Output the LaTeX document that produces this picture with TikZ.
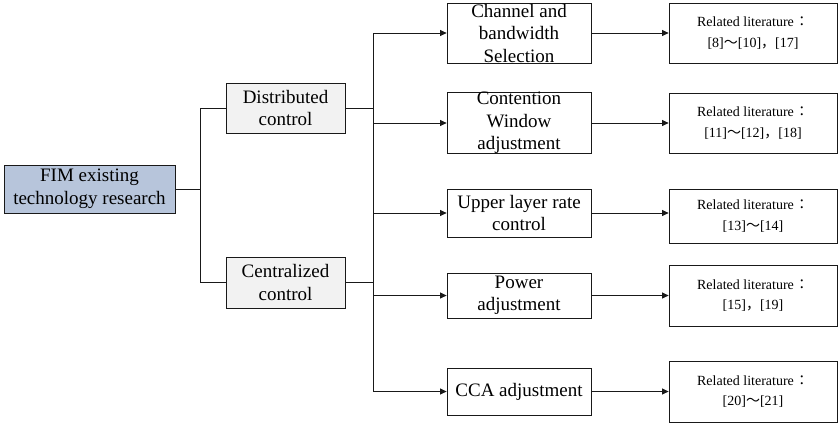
\documentclass[tikz,border=0pt]{standalone}
\usepackage{fontspec}
\setmainfont{Liberation Serif}
\newfontfamily\cjk{Noto Sans CJK SC}
\newfontfamily\cjktc{Noto Sans CJK TC}
\usetikzlibrary{arrows.meta}
\definecolor{rootfill}{HTML}{B7C5DB}
\definecolor{midfill}{HTML}{F2F2F2}
\newcommand{\relcolon}{\hspace{1pt}{\cjktc ：}}
\begin{document}
\begin{tikzpicture}[x=1pt,y=-1pt,
  box/.style={draw=black!90, line width=0.8pt, inner sep=0pt, align=center,
    font=\rmfamily\fontsize{19}{22.5}\selectfont},
  refbox/.style={box, minimum width=168pt, minimum height=60pt,
    font=\rmfamily\fontsize{14}{20.5}\selectfont},
  midbox/.style={box, minimum width=144pt},
  conn/.style={draw=black!90, line width=0.8pt},
  arr/.style={conn, -{Triangle[length=6.5pt,width=6pt]}}]
\useasboundingbox (0,0) rectangle (839,424);

\node[box, fill=rootfill, minimum width=171pt, minimum height=48pt] (fim) at (89.5,189)
  {FIM existing\\technology research};
\node[box, fill=midfill, minimum width=119pt, minimum height=50pt] (dist) at (285.5,108)
  {Distributed\\control};
\node[box, fill=midfill, minimum width=119pt, minimum height=51pt] (cent) at (285.5,282.5)
  {Centralized\\control};

\node[midbox, minimum height=60pt] (m1) at (519,33) {Channel and\\bandwidth\\Selection};
\node[midbox, minimum height=60pt] (m2) at (519,123) {Contention\\Window\\adjustment};
\node[midbox, minimum height=48pt] (m3) at (519,213) {Upper layer rate\\control};
\node[midbox, minimum height=45pt] (m4) at (519,295.5) {Power\\adjustment};
\node[midbox, minimum height=47pt] (m5) at (519,391.5) {CCA adjustment};

\node[refbox] (r1) at (753,33) {Related literature\relcolon\\{}[8]{\cjk ～}[10]{\cjk ，}[17]};
\node[refbox] (r2) at (753,123) {Related literature\relcolon\\{}[11]{\cjk ～}[12]{\cjk ，}[18]};
\node[refbox, minimum height=54pt] (r3) at (753,216) {Related literature\relcolon\\{}[13]{\cjk ～}[14]};
\node[refbox, minimum height=61pt] (r4) at (753,295.5) {Related literature\relcolon\\{}[15]{\cjk ，}[19]};
\node[refbox, minimum height=61pt] (r5) at (753,391.5) {Related literature\relcolon\\{}[20]{\cjk ～}[21]};

\coordinate (split) at (200,189);
\coordinate (bus) at (373,0);

\draw[conn] (fim.east) -- (split);
\draw[conn] (split |- dist.west) -- (split |- cent.west);
\draw[conn] (split |- dist.west) -- (dist.west);
\draw[conn] (split |- cent.west) -- (cent.west);
\draw[conn] (dist.east) -- (dist.east -| bus);
\draw[conn] (cent.east) -- (cent.east -| bus);
\draw[conn] (m1.west -| bus) -- (m5.west -| bus);

\foreach \i in {1,...,5}{
  \draw[arr] (m\i.west -| bus) -- (m\i.west);
  \draw[arr] (m\i.east) -- (m\i.east -| r\i.west);
}
\end{tikzpicture}
\end{document}
